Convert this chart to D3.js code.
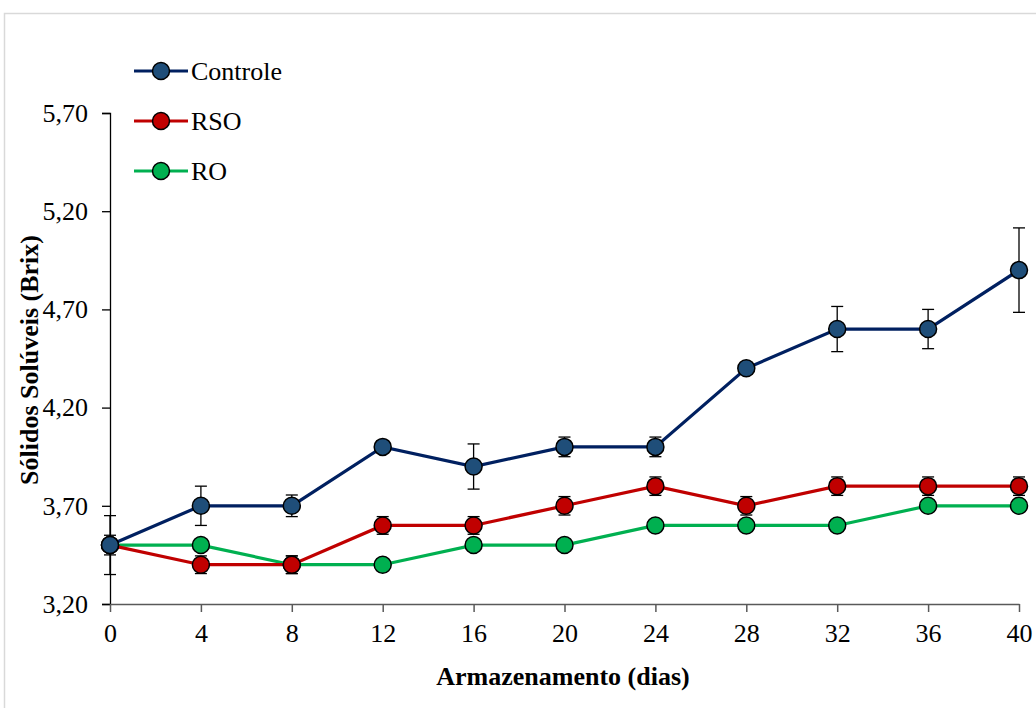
<!DOCTYPE html>
<html>
<head>
<meta charset="utf-8">
<script src="https://cdn.jsdelivr.net/npm/d3@7"></script>
<style>
  html, body { margin: 0; padding: 0; background: #fff; }
  svg { display: block; }
  text { font-family: "Liberation Serif", "Times New Roman", serif; fill: #000; }
</style>
</head>
<body>
<svg id="chart" width="1036" height="708"></svg>
<script>
// Storage days
const days = [0, 4, 8, 12, 16, 20, 24, 28, 32, 36, 40];

// Soluble solids (°Brix) per treatment
const controle = [3.5, 3.7, 3.7, 4.0, 3.9, 4.0, 4.0, 4.4, 4.6, 4.6, 4.9];
const rso      = [3.5, 3.4, 3.4, 3.6, 3.6, 3.7, 3.8, 3.7, 3.8, 3.8, 3.8];
const ro       = [3.5, 3.5, 3.4, 3.4, 3.5, 3.5, 3.6, 3.6, 3.6, 3.7, 3.7];

// Standard deviations
const controleErr = [0.15, 0.10, 0.055, 0.03, 0.115, 0.05, 0.05, 0.03, 0.115, 0.10, 0.215];
const rsoErr      = [0.05, 0.045, 0.045, 0.045, 0.045, 0.047, 0.047, 0.047, 0.047, 0.047, 0.047];
const roErr       = [0.02, 0.02, 0.045, 0.02, 0.02, 0.02, 0.02, 0.02, 0.02, 0.02, 0.02];

const seriesNames = ["Controle", "RSO", "RO"];
const yTicks = [3.2, 3.7, 4.2, 4.7, 5.2, 5.7];

const series = [
  { name: seriesNames[0], values: controle, err: controleErr, line: "#002060", fill: "#1F4E79" },
  { name: seriesNames[1], values: rso,      err: rsoErr,      line: "#C00000", fill: "#C00000" },
  { name: seriesNames[2], values: ro,       err: roErr,       line: "#00B050", fill: "#00B050" }
];

const svg = d3.select("#chart");

// Outer frame
svg.append("rect")
  .attr("x", 4.5).attr("y", 13.5)
  .attr("width", 1040).attr("height", 710)
  .attr("fill", "none").attr("stroke", "#d9d9d9").attr("stroke-width", 1.5);

const x = d3.scaleLinear().domain([0, 40]).range([110, 1019]);
const y = d3.scaleLinear().domain([3.2, 5.7]).range([604, 113]);

const fmt = v => d3.format(".2f")(v).replace(".", ",");

// Y axis
const yAxis = svg.append("g")
  .attr("transform", "translate(110,0)")
  .call(d3.axisLeft(y).tickValues(yTicks).tickSize(8).tickPadding(14).tickFormat(fmt));
yAxis.select(".domain").attr("stroke", "#000").attr("stroke-width", 1.3);
yAxis.selectAll(".tick line").attr("stroke", "#000").attr("stroke-width", 1.3);
yAxis.selectAll(".tick text")
  .style("font-family", "Liberation Serif, serif").style("font-size", "26px").attr("fill", "#000");

// X axis
const xAxis = svg.append("g")
  .attr("transform", "translate(0,604)")
  .call(d3.axisBottom(x).tickValues(days).tickSize(8).tickPadding(12).tickSizeOuter(0));
xAxis.select(".domain").attr("stroke", "#595959").attr("stroke-width", 1.5);
xAxis.selectAll(".tick line").attr("stroke", "#595959").attr("stroke-width", 1.5);
xAxis.selectAll(".tick text")
  .style("font-family", "Liberation Serif, serif").style("font-size", "26px").attr("fill", "#000");

// Axis titles
svg.append("text")
  .attr("x", 563).attr("y", 685)
  .attr("text-anchor", "middle")
  .style("font-size", "26px").style("font-weight", "bold")
  .text("Armazenamento (dias)");

svg.append("text")
  .attr("transform", "translate(38,360) rotate(-90)")
  .attr("text-anchor", "middle")
  .style("font-size", "26px").style("font-weight", "bold")
  .text("Sólidos Solúveis (Brix)");

const line = d3.line()
  .x((d, i) => x(days[i]))
  .y(d => y(d));

// Lines (bottom to top draw order: RO, RSO, Controle)
const drawOrder = [series[2], series[1], series[0]];

drawOrder.forEach(s => {
  svg.append("path")
    .datum(s.values)
    .attr("d", line)
    .attr("fill", "none")
    .attr("stroke", s.line)
    .attr("stroke-width", 3.2);
});

// Error bars
drawOrder.forEach(s => {
  const g = svg.append("g");
  s.values.forEach((v, i) => {
    const cx = x(days[i]);
    const y1 = y(v + s.err[i]), y2 = y(v - s.err[i]);
    g.append("line").attr("x1", cx).attr("x2", cx).attr("y1", y1).attr("y2", y2)
      .attr("stroke", "#000").attr("stroke-width", 1.3);
    [y1, y2].forEach(yy => {
      g.append("line").attr("x1", cx - 6).attr("x2", cx + 6).attr("y1", yy).attr("y2", yy)
        .attr("stroke", "#000").attr("stroke-width", 1.3);
    });
  });
});

// Markers
drawOrder.forEach(s => {
  svg.append("g").selectAll("circle")
    .data(s.values)
    .join("circle")
    .attr("cx", (d, i) => x(days[i]))
    .attr("cy", d => y(d))
    .attr("r", 8.5)
    .attr("fill", s.fill)
    .attr("stroke", "#000")
    .attr("stroke-width", 1.5);
});

// Legend
const legend = svg.append("g");
series.forEach((s, i) => {
  const ly = 71 + i * 50;
  legend.append("line")
    .attr("x1", 134).attr("x2", 188).attr("y1", ly).attr("y2", ly)
    .attr("stroke", s.line).attr("stroke-width", 3.2);
  legend.append("circle")
    .attr("cx", 161).attr("cy", ly).attr("r", 8.5)
    .attr("fill", s.fill).attr("stroke", "#000").attr("stroke-width", 1.5);
  legend.append("text")
    .attr("x", 191).attr("y", ly + 9)
    .style("font-size", "26px")
    .text(s.name);
});
</script>
</body>
</html>
